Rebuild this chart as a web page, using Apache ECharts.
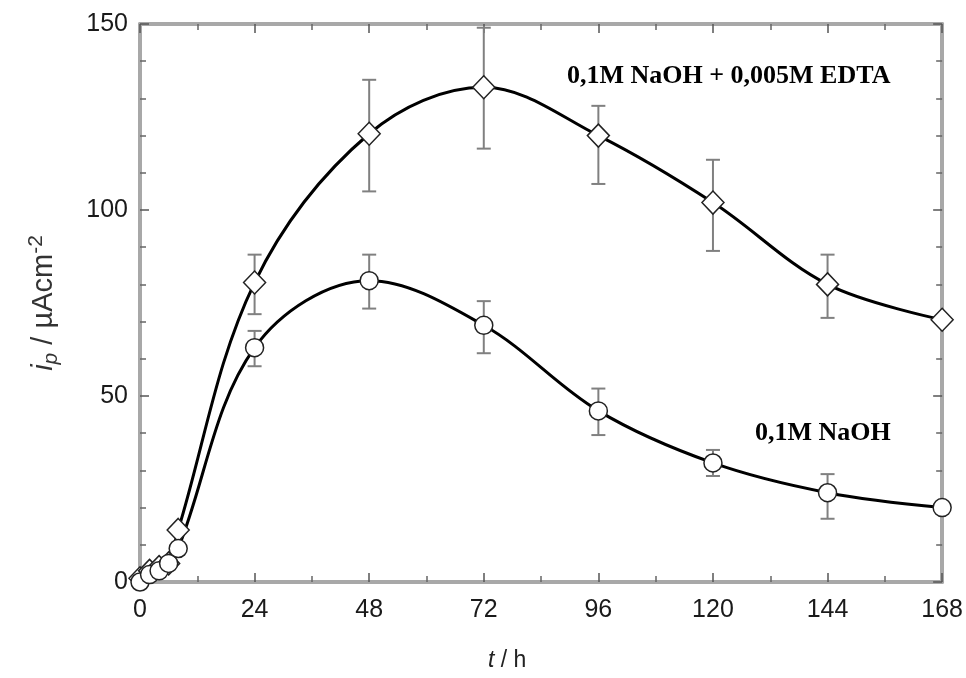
<!DOCTYPE html>
<html><head><meta charset="utf-8">
<script src="https://cdn.jsdelivr.net/npm/echarts@6/dist/echarts.min.js"></script>
<style>html,body{margin:0;padding:0;background:#fff}#c{width:966px;height:678px}</style>
</head><body><div id="c"></div>
<script>
// Data
const timesH = [0, 2, 4, 6, 8, 24, 48, 72, 96, 120, 144, 168];
const edtaValues = [1, 3, 4, 5, 14, 80.5, 120.5, 133, 120, 102, 80, 70.5];
const naohValues = [0, 2, 3, 5, 9, 63, 81, 69, 46, 32, 24, 20];
const edtaErrTimes = [24, 48, 72, 96, 120, 144];
const edtaErrLow = [72, 105, 116.5, 107, 89, 71];
const edtaErrHigh = [88, 135, 149, 128, 113.5, 88];
const naohErrTimes = [24, 48, 72, 96, 120, 144];
const naohErrLow = [58, 73.5, 61.5, 39.5, 28.5, 17];
const naohErrHigh = [67.5, 88, 75.5, 52, 35.5, 29];
const xTicks = [0, 24, 48, 72, 96, 120, 144, 168];
const yTicks = [0, 50, 100, 150];
const label1 = '0,1M NaOH + 0,005M EDTA';
const label2 = '0,1M NaOH';

const pair = (xs, ys) => xs.map((x, i) => [x, ys[i]]);
const errData = (ts, lo, hi) => ts.map((t, i) => [t, lo[i], hi[i]]);

function errRender(params, api) {
  const t = api.value(0);
  const lo = api.coord([t, api.value(1)]);
  const hi = api.coord([t, api.value(2)]);
  const cap = 7;
  const style = {stroke: '#808080', lineWidth: 2};
  return {type: 'group', children: [
    {type: 'line', shape: {x1: hi[0], y1: hi[1], x2: lo[0], y2: lo[1]}, style},
    {type: 'line', shape: {x1: hi[0]-cap, y1: hi[1], x2: hi[0]+cap, y2: hi[1]}, style},
    {type: 'line', shape: {x1: lo[0]-cap, y1: lo[1], x2: lo[0]+cap, y2: lo[1]}, style}
  ]};
}

const axisFont = {fontFamily: 'Liberation Sans', fontSize: 25, color: '#1a1a1a'};
const lineCol = '#a8a8a8';
const common = {
  axisLine: {show: true, onZero: false, lineStyle: {color: lineCol, width: 4}},
  axisTick: {show: true, inside: true, length: 9, lineStyle: {color: '#555', width: 1.5}},
  minorTick: {show: true, splitNumber: 2, length: 6, lineStyle: {color: '#666', width: 1.5}},
  splitLine: {show: false}
};

const chart = echarts.init(document.getElementById('c'));
chart.setOption({
  animation: false,
  backgroundColor: '#fff',
  grid: {left: 140, right: 23, top: 24, bottom: 96},
  xAxis: [
    Object.assign({}, common, {
      type: 'value', min: 0, max: 168, interval: 24, position: 'bottom',
      axisLabel: Object.assign({}, axisFont, {margin: 16, formatter: v => xTicks.includes(v) ? String(v) : ''})
    }),
    Object.assign({}, common, {
      type: 'value', min: 0, max: 168, interval: 24, position: 'top',
      axisLabel: {show: false}
    })
  ],
  yAxis: [
    Object.assign({}, common, {
      type: 'value', min: 0, max: 150, interval: 50, position: 'left',
      minorTick: Object.assign({}, common.minorTick, {splitNumber: 5}),
      axisLabel: Object.assign({}, axisFont, {margin: 12, formatter: v => yTicks.includes(v) ? String(v) : ''}),
      name: '{i|i}{s|p} / µAcm{u|-2}', nameLocation: 'middle', nameGap: 78, nameRotate: 90,
      nameTextStyle: {fontFamily: 'Liberation Sans', fontSize: 29, color: '#333',
        rich: {
          i: {fontFamily: 'Liberation Sans', fontStyle: 'italic', fontSize: 29, color: '#333'},
          s: {fontFamily: 'Liberation Sans', fontStyle: 'italic', fontSize: 21, color: '#333', verticalAlign: 'bottom', padding: [15, 0, 0, 0]},
          u: {fontFamily: 'Liberation Sans', fontSize: 21, color: '#333', verticalAlign: 'top', padding: [0, 0, 15, 0]}
        }}
    }),
    Object.assign({}, common, {
      type: 'value', min: 0, max: 150, interval: 50, position: 'right',
      minorTick: Object.assign({}, common.minorTick, {splitNumber: 5}),
      axisLabel: {show: false}
    })
  ],
  series: [
    {type: 'custom', renderItem: errRender, data: errData(edtaErrTimes, edtaErrLow, edtaErrHigh), z: 1,
     encode: {x: 0, y: [1, 2]}},
    {type: 'custom', renderItem: errRender, data: errData(naohErrTimes, naohErrLow, naohErrHigh), z: 1,
     encode: {x: 0, y: [1, 2]}},
    {type: 'line', data: pair(timesH, edtaValues), smooth: 0.35, z: 3,
     symbol: 'diamond', symbolSize: [22, 23], showAllSymbol: true,
     lineStyle: {color: '#000', width: 3},
     itemStyle: {color: '#fff', borderColor: '#222', borderWidth: 1.5}},
    {type: 'line', data: pair(timesH, naohValues), smooth: 0.35, z: 3,
     symbol: 'circle', symbolSize: 18, showAllSymbol: true,
     lineStyle: {color: '#000', width: 3},
     itemStyle: {color: '#fff', borderColor: '#222', borderWidth: 1.5}}
  ],
  graphic: [
    {type: 'text', left: 567, top: 63, style: {text: label1, fontFamily: 'Liberation Serif', fontWeight: 'bold', fontSize: 26, fill: '#000'}},
    {type: 'text', left: 755, top: 420, style: {text: label2, fontFamily: 'Liberation Serif', fontWeight: 'bold', fontSize: 26, fill: '#000'}},
    {type: 'text', left: 488, top: 649, style: {rich: {i: {fontFamily: 'Liberation Sans', fontStyle: 'italic', fontSize: 23, fill: '#222'}, n: {fontFamily: 'Liberation Sans', fontSize: 23, fill: '#222'}}, text: '{i|t}{n| / h}'}}
  ]
});
</script></body></html>
